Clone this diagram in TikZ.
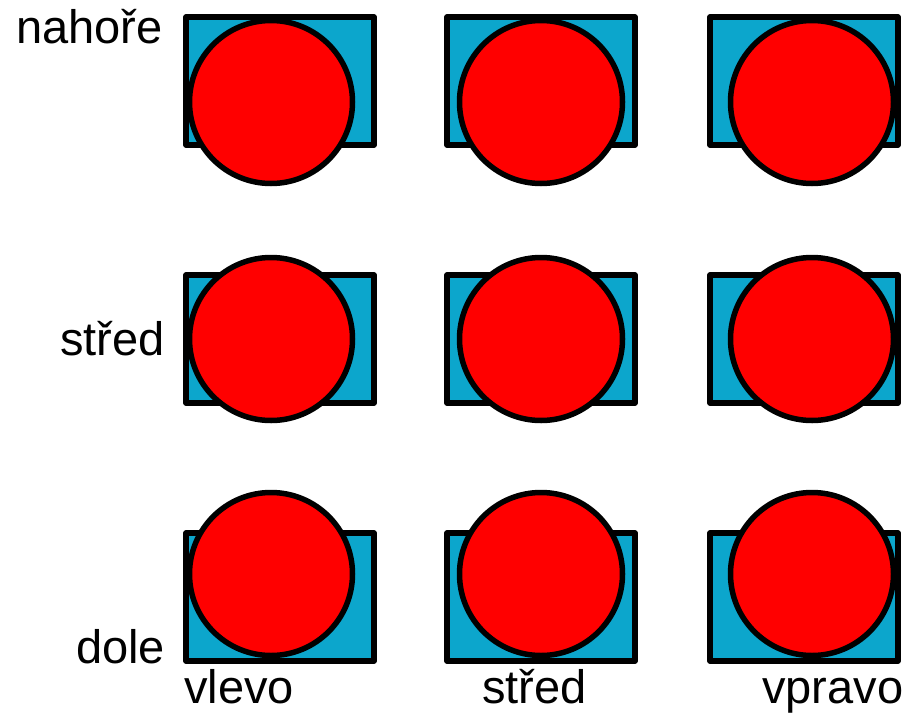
\documentclass[tikz,border=0pt]{standalone}
\usepackage{fontspec}
\setmainfont{Liberation Sans}
\definecolor{boxblue}{RGB}{12,166,204}
\definecolor{ballred}{RGB}{255,0,0}
\begin{document}
\begin{tikzpicture}[x=1pt,y=-1pt,
  box/.style={rectangle,draw=black,fill=boxblue,line width=5.5pt,line join=round,
              minimum width=188pt,minimum height=128pt,inner sep=0pt},
  ball/.style={circle,draw=black,fill=ballred,line width=5.5pt,minimum size=163pt,inner sep=0pt},
  lbl/.style={anchor=base west,inner sep=0pt,font=\fontsize{47}{51}\selectfont}]
\useasboundingbox (0,0) rectangle (916,715);
% rectangles
\node[box] (r11) at (280,81) {};
\node[box] (r12) at (541,81) {};
\node[box] (r13) at (804,81) {};
\node[box] (r21) at (280,339) {};
\node[box] (r22) at (541,339) {};
\node[box] (r23) at (804,339) {};
\node[box] (r31) at (280,597) {};
\node[box] (r32) at (541,597) {};
\node[box] (r33) at (804,597) {};
% circles
\node[ball] (c11) at (271,102) {};
\node[ball] (c12) at (541,102) {};
\node[ball] (c13) at (812,102) {};
\node[ball] (c21) at (271,339) {};
\node[ball] (c22) at (541,339) {};
\node[ball] (c23) at (812,339) {};
\node[ball] (c31) at (271,574) {};
\node[ball] (c32) at (541,574) {};
\node[ball] (c33) at (812,574) {};
% labels
\node[lbl] (lt) at (16,43) {nahoře};
\node[lbl] (lm) at (60,355) {střed};
\node[lbl] (lb) at (76,663) {dole};
\node[lbl] (bl) at (184,703) {vlevo};
\node[lbl] (bm) at (482,703) {střed};
\node[lbl] (br) at (762,703) {vpravo};
\end{tikzpicture}
\end{document}
